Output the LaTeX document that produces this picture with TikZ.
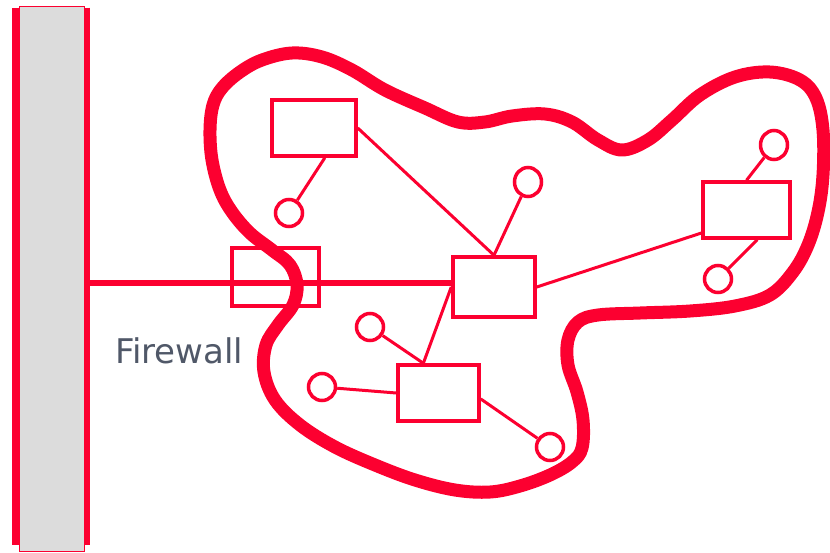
\documentclass[tikz,border=0pt]{standalone}
\usepackage{fontspec}
\newfontfamily\labelfont{DejaVu Sans}
\usetikzlibrary{calc,shapes.geometric}
\definecolor{netred}{RGB}{252,0,48}
\definecolor{bargray}{RGB}{220,220,220}
\definecolor{labelgray}{RGB}{80,88,104}
\tikzset{
  netbox/.style={
    draw=netred,
    rectangle,
    line width=3.5pt,
    minimum width=84pt,
    minimum height=56pt,
    inner sep=0pt
  },
  nethost/.style={
    draw=netred,
    ellipse,
    line width=3.5pt,
    minimum width=27pt,
    minimum height=27pt,
    inner sep=0pt
  },
  netlink/.style={
    draw=netred,
    line width=3pt
  },
  trunk/.style={
    draw=netred,
    line width=6pt
  },
  cloudline/.style={
    draw=netred,
    line width=13pt,
    line join=round
  }
}

\begin{document}
\begin{tikzpicture}[x=1pt, y=-1pt]
    \useasboundingbox (0,0) rectangle (830,552);

    % backbone bar
    \node[fill=bargray, draw=netred, line width=0.8pt, minimum width=65pt,
      minimum height=545pt, inner sep=0pt] (backbone) at (51.5,278.5) {};
    \draw[netred, line width=7pt]
      ($(backbone.north west)+(-3.5,2)$) -- ($(backbone.south west)+(-3.5,-6)$);
    \draw[netred, line width=6pt]
      ($(backbone.north east)+(2.5,2)$) -- ($(backbone.south east)+(2.5,-6)$);

    \node[netbox] (deskA) at (314,128) {};
    \node[netbox, minimum width=82pt, minimum height=60pt] (router) at (494,287) {};
    \node[netbox, minimum width=87pt] (deskB) at (746.5,210) {};
    \node[netbox, minimum width=81pt] (deskC) at (438.5,393) {};
    \node[netbox, minimum width=87pt, minimum height=58pt] (firewall) at (275.5,277) {};

    \node[nethost] (hostA) at (289,213) {};
    \node[nethost, minimum height=29pt] (hostB) at (528,182) {};
    \node[nethost, minimum height=29pt] (hostC) at (774,145) {};
    \node[nethost] (hostD) at (718,279) {};
    \node[nethost] (hostE) at (370,327) {};
    \node[nethost] (hostF) at (322,387) {};
    \node[nethost] (hostG) at (550,447) {};

    \node[anchor=base west, text=labelgray, inner sep=0pt,
      font=\labelfont\fontsize{34}{40}\selectfont] (fwlabel) at (115,363) {Firewall};

    \coordinate (tap) at (89,283);
    \draw[trunk] (tap) -- (tap -| router.west);

    \draw[netlink] (deskA.-70) -- (hostA);
    \draw[netlink] (deskA.east) -- (router.north);
    \draw[netlink] (hostB) -- (router.north);
    \draw[netlink] (router.east) -- (deskB.-153);
    \draw[netlink] (deskB.north) -- (hostC);
    \draw[netlink] (deskB.-70) -- (hostD);
    \draw[netlink] (router.west) -- (deskC.117);
    \draw[netlink] (hostE) -- (deskC.117);
    \draw[netlink] (hostF) -- (deskC.west);
    \draw[netlink] (deskC.-8) -- (hostG);

    % intranet outline
    \draw[cloudline] plot[smooth cycle, tension=0.6] coordinates {
      (222,88) (240,72) (262,60) (292,53) (322,57) (352,70) (385,90)
      (425,108) (458,122) (485,122) (512,116) (545,114) (572,122)
      (598,140) (622,150) (648,140) (672,120) (700,95) (735,77)
      (770,72) (800,80) (816,98) (823,130) (823,175) (818,212)
      (808,245) (793,272) (770,295) (735,306) (690,311) (640,313)
      (598,315) (578,322) (568,340) (568,365) (577,392) (583,420)
      (582,448) (572,462) (550,475) (520,486) (490,492) (455,490)
      (415,480) (375,465) (335,447) (300,425) (275,400) (264,372)
      (266,345) (278,325) (293,305) (297,285) (290,265) (272,250)
      (250,233) (232,212) (220,190) (212,160) (210,130) (213,105)};
\end{tikzpicture}
\end{document}
